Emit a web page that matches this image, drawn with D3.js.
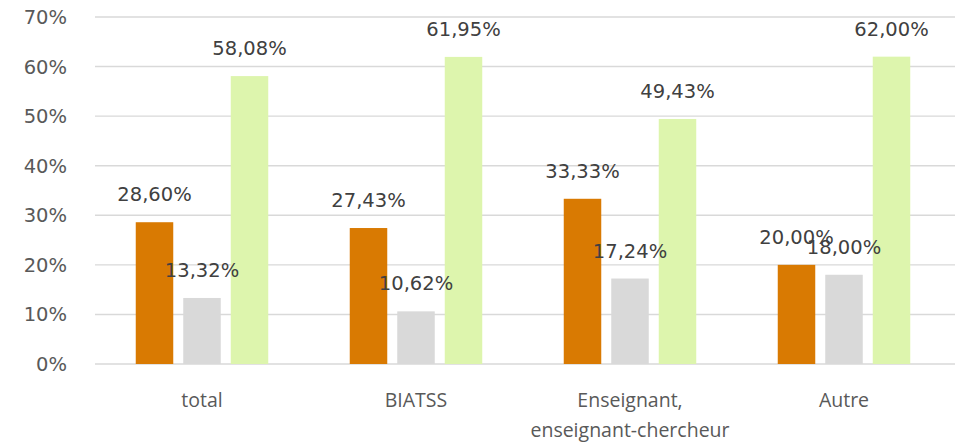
<!DOCTYPE html>
<html>
<head>
<meta charset="utf-8">
<script src="https://cdn.jsdelivr.net/npm/d3@7/dist/d3.min.js"></script>
<style>
  html, body { margin: 0; padding: 0; background: #fff; }
  svg { display: block; }
</style>
</head>
<body>
<svg id="chart" width="960" height="445"></svg>
<script>
// Categories (each may span several lines) and the three series values (in %)
const categories = [
  ["total"],
  ["BIATSS"],
  ["Enseignant,", "enseignant-chercheur"],
  ["Autre"]
];
const seriesA = [28.60, 27.43, 33.33, 20.00];
const seriesB = [13.32, 10.62, 17.24, 18.00];
const seriesC = [58.08, 61.95, 49.43, 62.00];
const seriesColors = ["#d97a02", "#d9d9d9", "#ddf5ad"];
const yTicks = [0, 10, 20, 30, 40, 50, 60, 70];

const svg = d3.select("#chart");
const plotLeft = 95, plotRight = 955, plotTop = 17, plotBottom = 364;

const x = d3.scaleBand()
  .domain(d3.range(categories.length))
  .range([plotLeft, plotLeft + 856]);

const y = d3.scaleLinear().domain([0, 70]).range([plotBottom, plotTop]);

// Bar width and spacing within a category
const barW = 37.5, barStep = 47.5;
const series = [seriesA, seriesB, seriesC];

const fmt = v => v.toFixed(2).replace(".", ",") + "%";

// Horizontal grid lines
svg.append("g")
  .selectAll("line")
  .data(yTicks)
  .join("line")
  .attr("x1", plotLeft).attr("x2", plotRight)
  .attr("y1", d => y(d)).attr("y2", d => y(d))
  .attr("stroke", "#d9d9d9")
  .attr("stroke-width", 1.4);

// Y axis tick labels
svg.append("g")
  .selectAll("text")
  .data(yTicks)
  .join("text")
  .attr("x", 67)
  .attr("y", d => y(d))
  .attr("dy", "0.36em")
  .attr("text-anchor", "end")
  .attr("font-family", "DejaVu Sans")
  .attr("font-size", 19.5)
  .attr("fill", "#595959")
  .text(d => d + "%");

// Bars
series.forEach((vals, si) => {
  const cx = i => x(i) + x.bandwidth() / 2 + (si - 1) * barStep;
  svg.append("g")
    .selectAll("rect")
    .data(vals)
    .join("rect")
    .attr("x", (d, i) => cx(i) - barW / 2)
    .attr("y", d => y(d))
    .attr("width", barW)
    .attr("height", d => y(0) - y(d))
    .attr("fill", seriesColors[si]);
});

// Value labels
series.forEach((vals, si) => {
  const cx = i => x(i) + x.bandwidth() / 2 + (si - 1) * barStep;
  svg.append("g")
    .selectAll("text")
    .data(vals)
    .join("text")
    .attr("x", (d, i) => cx(i))
    .attr("y", d => y(d) - 21)
    .attr("text-anchor", "middle")
    .attr("font-family", "DejaVu Sans")
    .attr("font-size", 19.5)
    .attr("fill", "#404040")
    .text(d => fmt(d));
});

// Category labels
const cat = svg.append("g")
  .selectAll("text")
  .data(categories)
  .join("text")
  .attr("x", (d, i) => x(i) + x.bandwidth() / 2)
  .attr("y", 407)
  .attr("text-anchor", "middle")
  .attr("font-family", "Open Sans")
  .attr("font-size", 19.5)
  .attr("fill", "#595959");
cat.selectAll("tspan")
  .data(d => d)
  .join("tspan")
  .attr("x", function () { return d3.select(this.parentNode).attr("x"); })
  .attr("dy", (d, j) => j === 0 ? 0 : 30)
  .text(d => d);
</script>
</body>
</html>
